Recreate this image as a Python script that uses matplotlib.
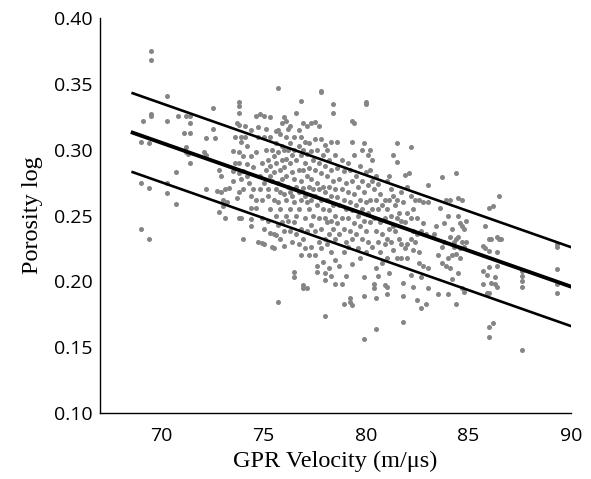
import matplotlib.pyplot as plt

# velocity (m/us) and porosity log values, band by band
vel = []
por = []

vel += [69.1, 69.0, 69.0, 69.0, 69.5, 69.5, 69.5, 69.5, 69.4, 69.4, 69.4]
por += [0.322, 0.306, 0.275, 0.240, 0.375, 0.368, 0.327, 0.326, 0.305, 0.271, 0.232]

vel += [70.3, 70.3, 70.3, 70.3, 70.8, 70.7, 70.7]
por += [0.341, 0.322, 0.275, 0.267, 0.326, 0.283, 0.259]

vel += [71.2, 71.1, 71.2, 71.3, 71.4, 71.4, 71.4, 71.4, 71.2]
por += [0.326, 0.313, 0.302, 0.297, 0.326, 0.320, 0.313, 0.290, 0.298]

vel += [72.2, 72.1, 72.2, 72.2, 72.5, 72.5, 72.6, 72.8, 72.7, 72.8, 72.9, 72.9, 73.0, 73.0]
por += [0.309, 0.298, 0.296, 0.270, 0.332, 0.316, 0.309, 0.285, 0.269, 0.253, 0.280, 0.268, 0.262, 0.257]

vel += [73.1, 73.1, 73.2, 73.3, 73.5, 73.5, 73.6, 73.6, 73.7, 73.8, 73.8, 73.8, 73.8, 73.9,
        73.9, 73.8, 73.8, 73.8, 73.9, 73.8, 73.8, 73.9, 74.0, 73.7, 73.5, 74.0, 74.0, 74.0]
por += [0.270, 0.248, 0.260, 0.271, 0.299, 0.276, 0.290, 0.310, 0.320, 0.336, 0.333, 0.328, 0.319, 0.310,
        0.306, 0.298, 0.290, 0.282, 0.278, 0.268, 0.248, 0.248, 0.232, 0.263, 0.284, 0.295, 0.284, 0.270]

vel += [74.1, 74.1, 74.2, 74.2, 74.2, 74.3, 74.4, 74.4, 74.4, 74.4, 74.4, 74.4, 74.5, 74.5,
        74.6, 74.6, 74.7, 74.7, 74.6, 74.6, 74.7, 74.8, 74.8, 74.8, 74.9, 74.9, 74.9, 75.0,
        75.0, 75.0, 75.0, 74.9, 75.0]
por += [0.318, 0.310, 0.303, 0.289, 0.280, 0.275, 0.315, 0.295, 0.265, 0.256, 0.247, 0.242, 0.270, 0.287,
        0.298, 0.326, 0.317, 0.310, 0.262, 0.256, 0.230, 0.327, 0.280, 0.270, 0.290, 0.262, 0.248, 0.326,
        0.310, 0.275, 0.240, 0.229, 0.228]

vel += [75.1, 75.1, 75.1, 75.2, 75.2, 75.2, 75.2, 75.3, 75.3, 75.3, 75.3, 75.3, 75.3, 75.4,
        75.4, 75.4, 75.5, 75.5, 75.5, 75.5, 75.5, 75.6, 75.6, 75.6, 75.6, 75.6, 75.6, 75.7,
        75.7, 75.7, 75.7, 75.7, 75.7, 75.7, 75.8, 75.8, 75.8, 75.8, 75.8, 75.9, 75.9, 75.9,
        75.9, 75.9, 76.0, 76.0, 76.0, 76.0, 76.0, 76.0]
por += [0.316, 0.300, 0.285, 0.292, 0.270, 0.265, 0.246, 0.325, 0.310, 0.288, 0.280, 0.255, 0.237, 0.226,
        0.300, 0.276, 0.295, 0.283, 0.262, 0.236, 0.225, 0.314, 0.305, 0.290, 0.270, 0.250, 0.235, 0.347,
        0.315, 0.298, 0.275, 0.260, 0.243, 0.184, 0.312, 0.285, 0.268, 0.255, 0.232, 0.320, 0.303, 0.292,
        0.278, 0.245, 0.325, 0.300, 0.287, 0.266, 0.238, 0.227]

vel += [76.1, 76.1, 76.1, 76.1, 76.1, 76.1, 76.2, 76.2, 76.2, 76.2, 76.3, 76.3, 76.3, 76.3,
        76.3, 76.3, 76.4, 76.4, 76.4, 76.4, 76.5, 76.5, 76.5, 76.5, 76.5, 76.5, 76.5, 76.6,
        76.6, 76.6, 76.6, 76.6, 76.7, 76.7, 76.7, 76.7, 76.7, 76.7, 76.8, 76.8, 76.8, 76.8,
        76.8, 76.8, 76.8, 76.9, 76.9, 76.9, 76.9, 76.9, 76.9, 76.9, 77.0, 77.0, 77.0, 77.0, 77.0]
por += [0.322, 0.310, 0.293, 0.280, 0.262, 0.250, 0.316, 0.300, 0.272, 0.246, 0.318, 0.305, 0.290, 0.268,
        0.255, 0.238, 0.296, 0.283, 0.265, 0.230, 0.310, 0.300, 0.278, 0.260, 0.245, 0.207, 0.203, 0.328,
        0.292, 0.272, 0.250, 0.236, 0.315, 0.303, 0.285, 0.268, 0.255, 0.228, 0.337, 0.310, 0.296, 0.276,
        0.262, 0.240, 0.220, 0.320, 0.300, 0.285, 0.271, 0.232, 0.195, 0.197, 0.306, 0.290, 0.265, 0.248, 0.225]

vel += [77.1, 77.1, 77.1, 77.1, 77.1, 77.1, 77.2, 77.2, 77.2, 77.2, 77.2, 77.3, 77.3, 77.3,
        77.3, 77.3, 77.3, 77.4, 77.4, 77.4, 77.5, 77.5, 77.5, 77.5, 77.5, 77.5, 77.6, 77.6,
        77.6, 77.6, 77.6, 77.7, 77.7, 77.7, 77.7, 77.7, 77.8, 77.8, 77.8, 77.8, 77.8, 77.8,
        77.8, 77.9, 77.9, 77.9, 77.9, 78.0, 78.0, 78.0, 78.0, 78.0, 78.0, 78.0, 78.0]
por += [0.318, 0.297, 0.280, 0.260, 0.238, 0.195, 0.305, 0.286, 0.272, 0.255, 0.220, 0.320, 0.299, 0.278,
        0.262, 0.243, 0.226, 0.292, 0.270, 0.250, 0.321, 0.308, 0.285, 0.265, 0.238, 0.220, 0.300, 0.275,
        0.258, 0.212, 0.207, 0.318, 0.290, 0.270, 0.248, 0.230, 0.345, 0.344, 0.308, 0.282, 0.262, 0.240,
        0.225, 0.296, 0.272, 0.255, 0.215, 0.304, 0.288, 0.268, 0.248, 0.232, 0.206, 0.174, 0.201]

vel += [78.1, 78.1, 78.1, 78.1, 78.1, 78.2, 78.2, 78.2, 78.2, 78.2, 78.3, 78.3, 78.3, 78.3,
        78.3, 78.3, 78.4, 78.4, 78.4, 78.4, 78.4, 78.5, 78.5, 78.5, 78.5, 78.5, 78.5, 78.6,
        78.6, 78.6, 78.6, 78.7, 78.7, 78.7, 78.7, 78.8, 78.8, 78.8, 78.8, 78.9, 78.9, 78.9,
        78.9, 78.9, 79.0, 79.0, 79.0, 79.0]
por += [0.300, 0.280, 0.262, 0.245, 0.228, 0.292, 0.272, 0.254, 0.236, 0.210, 0.306, 0.285, 0.265, 0.246,
        0.222, 0.204, 0.335, 0.328, 0.276, 0.258, 0.240, 0.296, 0.270, 0.250, 0.232, 0.216, 0.198, 0.306,
        0.286, 0.264, 0.244, 0.278, 0.258, 0.236, 0.212, 0.292, 0.270, 0.248, 0.198, 0.284, 0.262, 0.240,
        0.222, 0.183, 0.275, 0.255, 0.230, 0.204]

vel += [79.1, 79.1, 79.1, 79.1, 79.2, 79.2, 79.2, 79.2, 79.2, 79.3, 79.3, 79.3, 79.3, 79.3,
        79.3, 79.3, 79.4, 79.4, 79.4, 79.4, 79.5, 79.5, 79.5, 79.6, 79.6, 79.6, 79.7, 79.7,
        79.7, 79.7, 79.8, 79.8, 79.8, 79.8, 79.9, 79.9, 79.9, 79.9, 79.9, 79.9, 80.0, 80.0,
        80.0, 80.0, 80.0, 80.0]
por += [0.290, 0.268, 0.248, 0.226, 0.285, 0.260, 0.238, 0.187, 0.184, 0.322, 0.306, 0.276, 0.254, 0.232,
        0.213, 0.182, 0.320, 0.296, 0.266, 0.244, 0.280, 0.258, 0.236, 0.272, 0.250, 0.225, 0.288, 0.262,
        0.242, 0.218, 0.300, 0.276, 0.255, 0.232, 0.305, 0.268, 0.246, 0.203, 0.189, 0.156, 0.336, 0.335,
        0.283, 0.260, 0.238, 0.222]

vel += [80.1, 80.1, 80.1, 80.1, 80.2, 80.2, 80.2, 80.2, 80.3, 80.3, 80.3, 80.3, 80.4, 80.4,
        80.4, 80.4, 80.5, 80.5, 80.5, 80.5, 80.5, 80.5, 80.6, 80.6, 80.6, 80.6, 80.7, 80.7,
        80.7, 80.8, 80.8, 80.8, 80.9, 80.9, 80.9, 80.9, 81.0, 81.0, 81.0, 81.0, 81.0, 81.0]
por += [0.296, 0.273, 0.252, 0.230, 0.300, 0.285, 0.262, 0.245, 0.292, 0.276, 0.255, 0.226, 0.270, 0.248,
        0.198, 0.195, 0.280, 0.262, 0.238, 0.210, 0.187, 0.164, 0.274, 0.255, 0.230, 0.204, 0.266, 0.245,
        0.222, 0.258, 0.236, 0.214, 0.262, 0.248, 0.228, 0.197, 0.276, 0.255, 0.232, 0.218, 0.196, 0.190]

vel += [81.1, 81.1, 81.1, 81.1, 81.2, 81.2, 81.2, 81.3, 81.3, 81.3, 81.3, 81.4, 81.4, 81.5,
        81.5, 81.5, 81.5, 81.5, 81.6, 81.6, 81.7, 81.7, 81.7, 81.7, 81.8, 81.8, 81.8, 81.8,
        81.9, 81.9, 81.9, 82.0, 82.0, 82.0, 82.0]
por += [0.280, 0.262, 0.240, 0.206, 0.270, 0.250, 0.230, 0.296, 0.265, 0.242, 0.224, 0.258, 0.238, 0.305,
        0.291, 0.262, 0.248, 0.218, 0.252, 0.232, 0.268, 0.246, 0.228, 0.218, 0.260, 0.199, 0.189, 0.169,
        0.281, 0.245, 0.225, 0.272, 0.252, 0.228, 0.218]

vel += [82.1, 82.2, 82.2, 82.2, 82.2, 82.2, 82.3, 82.3, 82.3, 82.3, 82.4, 82.4, 82.5, 82.5,
        82.5, 82.6, 82.6, 82.6, 82.7, 82.7, 82.7, 82.8, 82.8, 82.8, 82.9, 82.9, 83.0, 83.0,
        83.0, 83.0]
por += [0.282, 0.302, 0.265, 0.248, 0.232, 0.205, 0.255, 0.238, 0.224, 0.196, 0.262, 0.230, 0.248, 0.236,
        0.186, 0.262, 0.222, 0.214, 0.238, 0.203, 0.180, 0.260, 0.244, 0.212, 0.236, 0.183, 0.273, 0.260,
        0.210, 0.195]

vel += [83.3, 83.4, 83.5, 83.5, 83.6, 83.7, 83.7, 83.7, 83.8, 83.8, 83.9, 83.9, 84.0, 84.0,
        84.0, 84.1, 84.1, 84.1, 84.2, 84.2, 84.2]
por += [0.236, 0.242, 0.220, 0.190, 0.256, 0.279, 0.226, 0.214, 0.244, 0.230, 0.262, 0.212, 0.250, 0.218,
        0.190, 0.262, 0.234, 0.210, 0.240, 0.220, 0.202]

vel += [84.3, 84.3, 84.4, 84.4, 84.4, 84.4, 84.5, 84.5, 84.5, 84.5, 84.6, 84.6, 84.6, 84.7,
        84.7, 84.7, 84.7, 84.8, 84.8, 84.8, 84.9, 84.9]
por += [0.230, 0.226, 0.232, 0.221, 0.282, 0.183, 0.263, 0.250, 0.234, 0.206, 0.244, 0.225, 0.218, 0.262,
        0.242, 0.230, 0.195, 0.240, 0.226, 0.192, 0.246, 0.230]

vel += [85.7, 85.7, 85.7, 85.8, 85.8, 85.9, 85.9, 86.0, 86.0, 86.0, 86.0, 86.0, 86.0, 86.0,
        86.1, 86.1, 86.2, 86.2, 86.3, 86.3, 86.4, 86.4, 86.4, 86.5, 86.5, 86.6, 86.4]
por += [0.227, 0.208, 0.198, 0.242, 0.225, 0.205, 0.191, 0.256, 0.232, 0.223, 0.211, 0.191, 0.165, 0.158,
        0.232, 0.199, 0.257, 0.168, 0.203, 0.198, 0.234, 0.222, 0.212, 0.232, 0.265, 0.232, 0.196]

vel += [87.6, 87.6, 87.6, 87.6, 87.6, 89.3, 89.3, 89.3, 89.3, 89.3]
por += [0.208, 0.204, 0.200, 0.196, 0.148, 0.228, 0.226, 0.209, 0.198, 0.191]

# regression line and +/- band
fit_x = [68.6, 90.0]
fit_y = [0.313, 0.196]
band = 0.030

fig = plt.figure(figsize=(5.91, 4.79), dpi=100)
ax = fig.add_axes([0.169, 0.138, 0.797, 0.824])

ax.scatter(vel, por, s=13, color='#858585', linewidths=0, zorder=2)

ax.plot(fit_x, fit_y, color='black', linewidth=2.8, zorder=3)
ax.plot(fit_x, [v + band for v in fit_y], color='black', linewidth=1.9, zorder=3)
ax.plot(fit_x, [v - band for v in fit_y], color='black', linewidth=1.9, zorder=3)

ax.set_xlim(67, 90)
ax.set_ylim(0.10, 0.40)
ax.set_xticks([70, 75, 80, 85, 90])
ax.set_yticks([0.10, 0.15, 0.20, 0.25, 0.30, 0.35, 0.40])
ax.set_yticklabels(['0.10', '0.15', '0.20', '0.25', '0.30', '0.35', '0.40'])

for side in ['top', 'right']:
    ax.spines[side].set_visible(False)
for side in ['left', 'bottom']:
    ax.spines[side].set_linewidth(1.0)

ax.tick_params(axis='x', length=0, pad=10, labelsize=14)
ax.tick_params(axis='y', length=0, pad=5, labelsize=14)
for lab in ax.get_xticklabels() + ax.get_yticklabels():
    lab.set_family('Open Sans')

ax.set_xlabel('GPR Velocity (m/\u03bcs)', fontsize=17.5, family='Liberation Serif', labelpad=4)
ax.set_ylabel('Porosity log', fontsize=17.5, family='Liberation Serif', labelpad=8)

plt.savefig('out.png', dpi=100)
